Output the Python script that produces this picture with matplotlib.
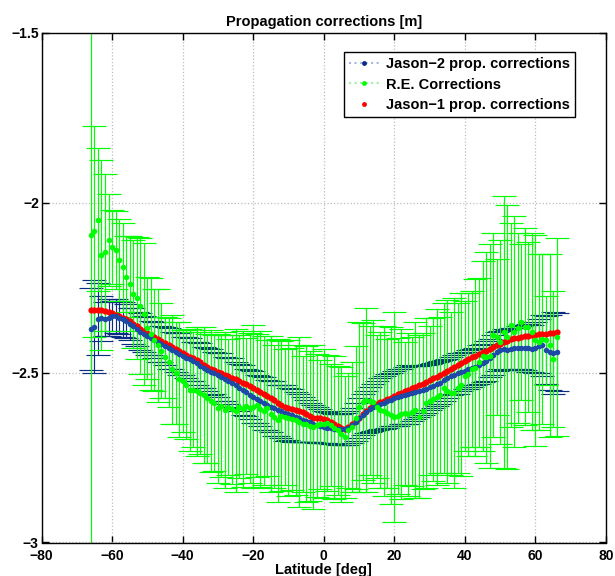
import matplotlib
matplotlib.use("Agg")
import matplotlib.pyplot as plt
from matplotlib.lines import Line2D
from matplotlib.ticker import FuncFormatter

plt.rcParams['font.family'] = ['Liberation Sans', 'DejaVu Sans']
plt.rcParams['font.weight'] = 'bold'

# latitude bins [deg]
latitude = list(range(-66, 67))

# Jason-1 propagation corrections [m]
jason1 = [
    -2.315, -2.315, -2.316, -2.316, -2.318, -2.322, -2.325, -2.329, -2.333, -2.338,
    -2.343, -2.349, -2.356, -2.363, -2.370, -2.377, -2.383, -2.389, -2.395, -2.401,
    -2.407, -2.413, -2.419, -2.425, -2.431, -2.437, -2.442, -2.447, -2.453, -2.458,
    -2.464, -2.470, -2.476, -2.482, -2.488, -2.493, -2.497, -2.502, -2.506, -2.511,
    -2.515, -2.519, -2.524, -2.529, -2.534, -2.539, -2.544, -2.550, -2.556, -2.562,
    -2.568, -2.575, -2.581, -2.588, -2.595, -2.601, -2.605, -2.608, -2.610, -2.612,
    -2.616, -2.622, -2.628, -2.632, -2.633, -2.634, -2.636, -2.639, -2.645, -2.652,
    -2.658, -2.664, -2.666, -2.660, -2.651, -2.641, -2.632, -2.622, -2.612, -2.604,
    -2.598, -2.592, -2.587, -2.582, -2.578, -2.574, -2.569, -2.564, -2.559, -2.555,
    -2.550, -2.546, -2.542, -2.537, -2.532, -2.527, -2.522, -2.517, -2.512, -2.507,
    -2.502, -2.496, -2.490, -2.484, -2.478, -2.472, -2.466, -2.460, -2.455, -2.450,
    -2.445, -2.440, -2.435, -2.430, -2.425, -2.420, -2.415, -2.410, -2.406, -2.402,
    -2.399, -2.397, -2.395, -2.393, -2.391, -2.389, -2.388, -2.387, -2.386, -2.385,
    -2.384, -2.382, -2.380,
]

# Jason-2 propagation corrections [m] and spread
jason2 = [
    -2.372, -2.365, -2.342, -2.340, -2.341, -2.338, -2.333, -2.334, -2.338, -2.343,
    -2.349, -2.356, -2.364, -2.371, -2.379, -2.386, -2.393, -2.398, -2.404, -2.410,
    -2.416, -2.422, -2.428, -2.434, -2.440, -2.446, -2.451, -2.456, -2.461, -2.467,
    -2.473, -2.479, -2.485, -2.491, -2.497, -2.502, -2.507, -2.512, -2.518, -2.524,
    -2.530, -2.537, -2.544, -2.551, -2.558, -2.565, -2.572, -2.578, -2.584, -2.590,
    -2.595, -2.600, -2.605, -2.610, -2.614, -2.618, -2.622, -2.626, -2.630, -2.634,
    -2.638, -2.642, -2.646, -2.650, -2.654, -2.657, -2.660, -2.662, -2.664, -2.666,
    -2.667, -2.667, -2.666, -2.662, -2.655, -2.645, -2.634, -2.624, -2.615, -2.608,
    -2.602, -2.597, -2.592, -2.588, -2.584, -2.580, -2.576, -2.573, -2.570, -2.567,
    -2.564, -2.561, -2.558, -2.555, -2.551, -2.547, -2.543, -2.539, -2.534, -2.529,
    -2.523, -2.517, -2.511, -2.506, -2.502, -2.498, -2.494, -2.490, -2.486, -2.482,
    -2.477, -2.472, -2.466, -2.458, -2.448, -2.438, -2.432, -2.431, -2.433, -2.431,
    -2.428, -2.427, -2.426, -2.427, -2.428, -2.429, -2.427, -2.421, -2.419, -2.432,
    -2.440, -2.442, -2.438,
]
jason2_err = [
    0.120, 0.137, 0.105, 0.067, 0.050, 0.055, 0.045, 0.050, 0.048, 0.052,
    0.050, 0.047, 0.053, 0.050, 0.055, 0.052, 0.056, 0.050, 0.054, 0.058,
    0.052, 0.056, 0.060, 0.055, 0.058, 0.062, 0.057, 0.060, 0.064, 0.058,
    0.062, 0.066, 0.060, 0.064, 0.068, 0.062, 0.066, 0.070, 0.065, 0.068,
    0.072, 0.067, 0.070, 0.074, 0.069, 0.072, 0.076, 0.070, 0.074, 0.078,
    0.073, 0.076, 0.080, 0.075, 0.078, 0.082, 0.076, 0.079, 0.074, 0.070,
    0.066, 0.062, 0.058, 0.055, 0.052, 0.050, 0.048, 0.046, 0.045, 0.044,
    0.045, 0.046, 0.048, 0.050, 0.052, 0.055, 0.058, 0.060, 0.062, 0.066,
    0.070, 0.072, 0.075, 0.078, 0.080, 0.078, 0.082, 0.085, 0.080, 0.083,
    0.086, 0.082, 0.079, 0.076, 0.074, 0.071, 0.068, 0.066, 0.064, 0.062,
    0.060, 0.058, 0.056, 0.058, 0.060, 0.057, 0.055, 0.058, 0.056, 0.054,
    0.057, 0.055, 0.058, 0.056, 0.060, 0.058, 0.056, 0.060, 0.058, 0.062,
    0.060, 0.064, 0.062, 0.066, 0.070, 0.068, 0.075, 0.080, 0.090, 0.100,
    0.110, 0.120, 0.115,
]

# R.E. corrections [m] and spread
re_corr = [
    -2.094, -2.084, -2.050, -2.153, -2.146, -2.109, -2.130, -2.138, -2.168, -2.190,
    -2.217, -2.238, -2.268, -2.280, -2.305, -2.327, -2.368, -2.385, -2.405, -2.420,
    -2.436, -2.455, -2.470, -2.490, -2.500, -2.520, -2.525, -2.535, -2.550, -2.550,
    -2.555, -2.560, -2.565, -2.575, -2.583, -2.590, -2.605, -2.598, -2.610, -2.602,
    -2.608, -2.612, -2.600, -2.606, -2.598, -2.604, -2.600, -2.596, -2.606, -2.612,
    -2.604, -2.622, -2.630, -2.640, -2.628, -2.630, -2.634, -2.636, -2.640, -2.646,
    -2.650, -2.652, -2.657, -2.660, -2.655, -2.652, -2.650, -2.648, -2.654, -2.662,
    -2.670, -2.682, -2.690, -2.670, -2.660, -2.632, -2.600, -2.585, -2.580, -2.582,
    -2.585, -2.600, -2.610, -2.612, -2.620, -2.626, -2.630, -2.628, -2.622, -2.620,
    -2.622, -2.615, -2.610, -2.630, -2.612, -2.590, -2.582, -2.578, -2.572, -2.565,
    -2.545, -2.555, -2.560, -2.560, -2.545, -2.535, -2.510, -2.505, -2.490, -2.485,
    -2.470, -2.450, -2.455, -2.452, -2.390, -2.395, -2.410, -2.380, -2.395, -2.360,
    -2.380, -2.368, -2.350, -2.365, -2.365, -2.380, -2.405, -2.410, -2.400, -2.405,
    -2.420, -2.460, -2.395,
]
re_err = [
    1.000, 0.310, 0.210, 0.280, 0.230, 0.135, 0.110, 0.115, 0.120, 0.130,
    0.120, 0.140, 0.160, 0.180, 0.200, 0.210, 0.150, 0.165, 0.150, 0.165,
    0.140, 0.120, 0.130, 0.160, 0.150, 0.170, 0.150, 0.160, 0.180, 0.170,
    0.190, 0.180, 0.200, 0.190, 0.210, 0.200, 0.220, 0.210, 0.230, 0.200,
    0.220, 0.240, 0.210, 0.230, 0.200, 0.220, 0.240, 0.210, 0.230, 0.220,
    0.200, 0.230, 0.210, 0.240, 0.220, 0.200, 0.230, 0.210, 0.220, 0.250,
    0.200, 0.230, 0.220, 0.240, 0.210, 0.190, 0.220, 0.200, 0.180, 0.210,
    0.190, 0.200, 0.180, 0.170, 0.190, 0.210, 0.250, 0.230, 0.270, 0.220,
    0.240, 0.210, 0.230, 0.250, 0.220, 0.260, 0.310, 0.230, 0.250, 0.210,
    0.240, 0.220, 0.260, 0.240, 0.230, 0.250, 0.220, 0.240, 0.260, 0.230,
    0.250, 0.270, 0.240, 0.280, 0.250, 0.270, 0.220, 0.240, 0.230, 0.260,
    0.250, 0.280, 0.310, 0.330, 0.300, 0.230, 0.300, 0.400, 0.390, 0.300,
    0.340, 0.280, 0.230, 0.290, 0.250, 0.290, 0.310, 0.260, 0.250, 0.130,
    0.270, 0.200, 0.290,
]

assert len(jason1) == len(jason2) == len(jason2_err) == len(re_corr) == len(re_err) == len(latitude)

blue = '#0a2d84'
green = '#00ff00'

fig = plt.figure(figsize=(6.15, 5.76), dpi=100)
ax = fig.add_axes([41.5 / 615, 1 - 542.5 / 576, (606 - 41.5) / 615, (542.5 - 33) / 576])

ax.errorbar(latitude, jason2, yerr=jason2_err, fmt='o', ms=4, color='#1c4aa6',
            mec='none', ecolor=blue, elinewidth=0.85, capsize=8.4, capthick=0.85)
ax.errorbar(latitude, re_corr, yerr=re_err, fmt='o', ms=4, color=green,
            mec='none', ecolor=green, elinewidth=0.85, capsize=8.4, capthick=0.85)
ax.plot(latitude, jason1, 'o', ms=4.5, color='#ff0000', mec='none')

ax.set_xlim(-80, 80)
ax.set_ylim(-3, -1.5)
ax.set_xticks(range(-80, 81, 20))
ax.set_yticks([-3, -2.5, -2, -1.5])
ax.yaxis.set_major_formatter(FuncFormatter(lambda v, p: ('%g' % v).replace('-', '\u2212')))
ax.xaxis.set_major_formatter(FuncFormatter(lambda v, p: ('%g' % v).replace('-', '\u2212')))
ax.tick_params(direction='in', top=True, right=True, length=5, width=1, labelsize=10)
ax.tick_params(axis='x', pad=4.5)
ax.tick_params(axis='y', pad=2)
for s in ax.spines.values():
    s.set_linewidth(1.0)

ax.set_axisbelow(True)
ax.grid(True, linestyle=':', color='#bdbdbd', linewidth=0.9)

ax.set_title('Propagation corrections [m]', fontsize=10.5, fontweight='bold', pad=5)
ax.set_xlabel('Latitude [deg]', fontsize=10.5, fontweight='bold', labelpad=0)

handles = [
    Line2D([], [], linestyle=':', color='#a8b8e0', marker='o', ms=3.5,
           mfc='#0a2d84', mec='none'),
    Line2D([], [], linestyle=':', color='#a0f0a0', marker='o', ms=3.5,
           mfc=green, mec='none'),
    Line2D([], [], linestyle='none', marker='o', ms=3.5, mfc='#ff0000', mec='none'),
]
labels = ['Jason\u22122 prop. corrections', 'R.E. Corrections', 'Jason\u22121 prop. corrections']
leg = ax.legend(handles, labels, loc='upper right', bbox_to_anchor=(0.945, 0.963),
                borderaxespad=0, fontsize=10.5, fancybox=False, framealpha=1,
                edgecolor='black', handlelength=2.05, handletextpad=0.45,
                labelspacing=0.45, borderpad=0.35)
leg.get_frame().set_linewidth(1.0)

plt.savefig('out.png', dpi=100)
